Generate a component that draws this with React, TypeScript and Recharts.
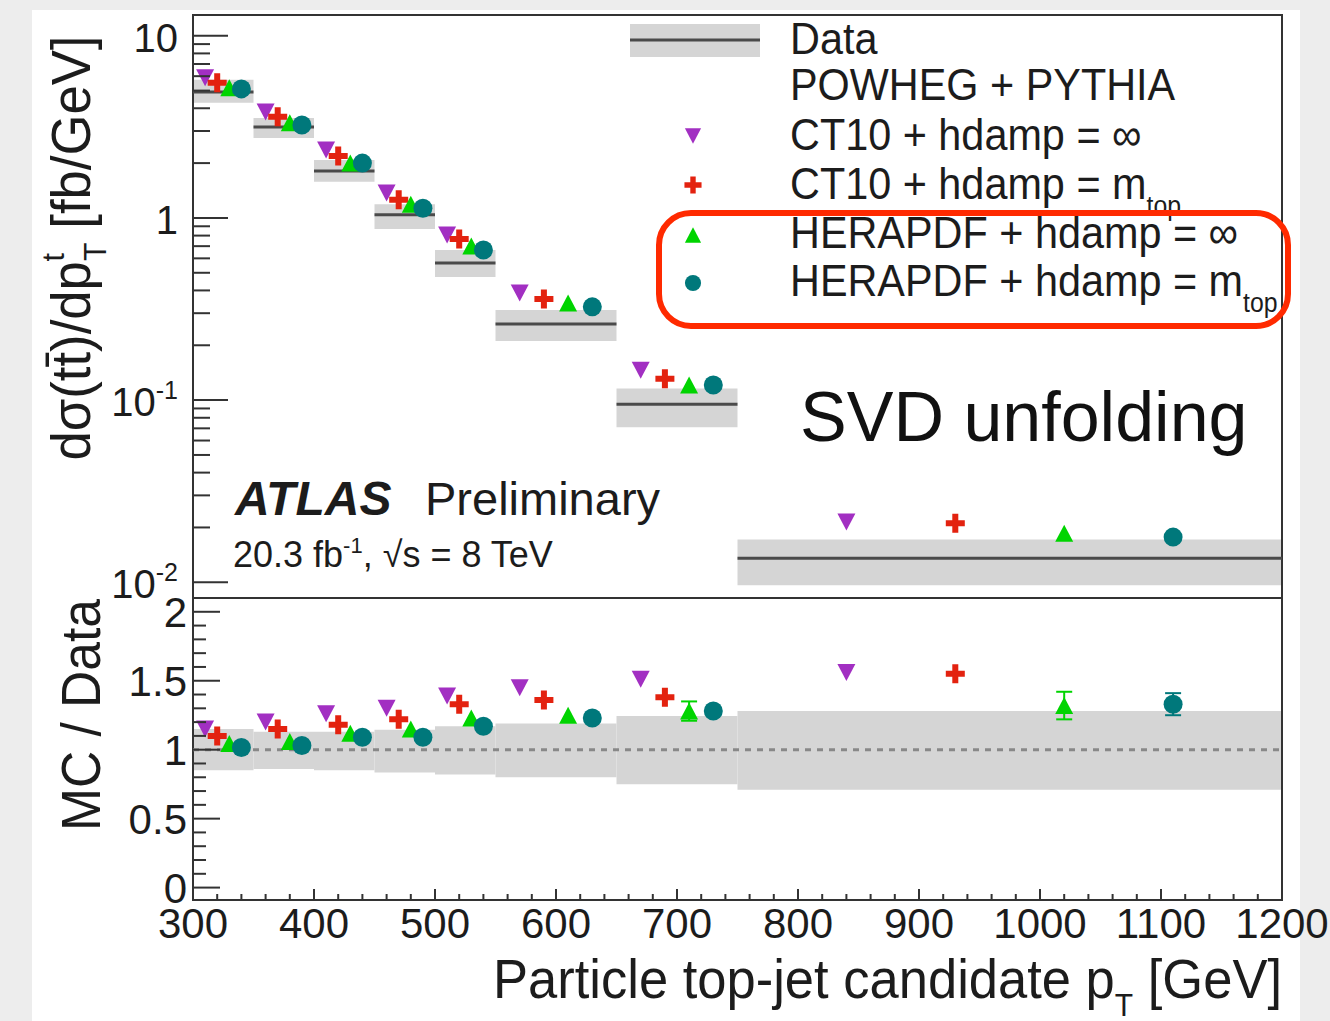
import React from "react";
import {
  ComposedChart,
  Scatter,
  XAxis,
  YAxis,
  ReferenceArea,
  ReferenceLine,
  ErrorBar,
} from "recharts";

// bins of particle top-jet candidate pT [GeV]
const binLow = [300, 350, 400, 450, 500, 550, 650, 750];
const binHigh = [350, 400, 450, 500, 550, 650, 750, 1200];

// unfolded data [fb/GeV] and its uncertainty band
const dataValue = [4.92, 3.16, 1.81, 1.04, 0.566, 0.262, 0.095, 0.01355];
const dataBandLow = [4.29, 2.75, 1.58, 0.87, 0.474, 0.211, 0.071, 0.00964];
const dataBandHigh = [5.74, 3.54, 2.08, 1.19, 0.667, 0.312, 0.116, 0.0172];

// same band in the MC / Data panel
const ratioBandLow = [0.85, 0.86, 0.85, 0.835, 0.82, 0.8, 0.75, 0.71];
const ratioBandHigh = [1.15, 1.13, 1.13, 1.145, 1.17, 1.19, 1.245, 1.28];

// POWHEG + PYTHIA predictions (x = where the marker sits inside the bin)
const ct10InfX = [310, 360, 410, 460, 510, 570, 670, 840];
const ct10InfTop = [5.88, 3.82, 2.36, 1.37, 0.806, 0.387, 0.146, 0.0214];
const ct10InfRatio = [1.15, 1.2, 1.26, 1.3, 1.39, 1.45, 1.51, 1.56];
const ct10InfErr = [0, 0, 0, 0, 0, 0, 0, 0];

const ct10MtopX = [320, 370, 420, 470, 520, 590, 690, 930];
const ct10MtopTop = [5.52, 3.59, 2.19, 1.26, 0.767, 0.359, 0.131, 0.0211];
const ct10MtopRatio = [1.1, 1.15, 1.18, 1.22, 1.33, 1.36, 1.38, 1.55];
const ct10MtopErr = [0, 0, 0, 0, 0, 0, 0, 0];

const heraInfX = [330, 380, 430, 480, 530, 610, 710, 1020];
const heraInfTop = [5.18, 3.33, 2.0, 1.19, 0.702, 0.341, 0.121, 0.0186];
const heraInfRatio = [1.045, 1.06, 1.12, 1.15, 1.23, 1.25, 1.28, 1.32];
const heraInfErr = [0, 0, 0, 0, 0, 0, 0.07, 0.1];

const heraMtopX = [340, 390, 440, 490, 540, 630, 730, 1110];
const heraMtopTop = [5.11, 3.24, 2.0, 1.13, 0.667, 0.325, 0.121, 0.0177];
const heraMtopRatio = [1.016, 1.03, 1.09, 1.09, 1.17, 1.23, 1.28, 1.33];
const heraMtopErr = [0, 0, 0, 0, 0, 0, 0, 0.08];

// axes
const xMajorTicks = [300, 400, 500, 600, 700, 800, 900, 1000, 1100, 1200];
const logMajorTicks = [0.01, 0.1, 1, 10];
const ratioMajorTicks = [0, 0.5, 1, 1.5, 2];

const X_DOMAIN: [number, number] = [300, 1200];
const TOP_DOMAIN: [number, number] = [0.0082, 13];
const RATIO_DOMAIN: [number, number] = [-0.09, 2.1];

const FONT = '"Liberation Sans", Arial, Helvetica, sans-serif';
const INK = "#1c1c1c";
const FRAME = "#333";
const BAND = "#d5d5d5";
const PURPLE = "#a22fc2";
const RED = "#e3220f";
const GREEN = "#00d400";
const TEAL = "#00787b";

const xTicks: number[] = [];
for (let v = 300; v <= 1200; v += 20) xTicks.push(v);
const logTicks: number[] = [];
logMajorTicks.slice(0, 3).forEach((m) => {
  for (let k = 1; k <= 9; k++) logTicks.push(m * k);
});
logTicks.push(10);
const ratioTicks: number[] = [];
for (let i = 0; i <= 20; i++) ratioTicks.push(i / 10);

// ---- marker shapes ----
const triDown = (color: string, s = 1) => (p: any) => {
  const { cx, cy } = p;
  const w = 9 * s;
  const h = 8.5 * s;
  return <polygon points={`${cx - w},${cy - h} ${cx + w},${cy - h} ${cx},${cy + h}`} fill={color} />;
};
const triUp = (color: string, s = 1) => (p: any) => {
  const { cx, cy } = p;
  const w = 9 * s;
  const h = 8.5 * s;
  return <polygon points={`${cx - w},${cy + h} ${cx + w},${cy + h} ${cx},${cy - h}`} fill={color} />;
};
const plus = (color: string, s = 1) => (p: any) => {
  const { cx, cy } = p;
  const a = 9.5 * s;
  const t = 3 * s;
  const d =
    `M${cx - t},${cy - a}h${2 * t}v${a - t}h${a - t}v${2 * t}h${-(a - t)}v${a - t}` +
    `h${-2 * t}v${-(a - t)}h${-(a - t)}v${-2 * t}h${a - t}z`;
  return <path d={d} fill={color} />;
};
const dot = (color: string, s = 1) => (p: any) => (
  <circle cx={p.cx} cy={p.cy} r={9.5 * s} fill={color} />
);

const models = [
  { key: "ct10Inf", color: PURPLE, shape: triDown, x: ct10InfX, top: ct10InfTop, ratio: ct10InfRatio, err: ct10InfErr },
  { key: "ct10Mtop", color: RED, shape: plus, x: ct10MtopX, top: ct10MtopTop, ratio: ct10MtopRatio, err: ct10MtopErr },
  { key: "heraInf", color: GREEN, shape: triUp, x: heraInfX, top: heraInfTop, ratio: heraInfRatio, err: heraInfErr },
  { key: "heraMtop", color: TEAL, shape: dot, x: heraMtopX, top: heraMtopTop, ratio: heraMtopRatio, err: heraMtopErr },
];

// ---- ticks (ROOT style: drawn inside the frame) ----
const renderLogTick = (p: any) => {
  const { x, y, payload } = p;
  const e = Math.log10(payload.value);
  const major = Math.abs(e - Math.round(e)) < 1e-6;
  const ex = Math.round(e);
  return (
    <g>
      <line x1={x} x2={x + (major ? 35 : 17)} y1={y} y2={y} stroke={FRAME} strokeWidth={2} />
      {major && (
        <text x={x - 15} y={y + 16} textAnchor="end" fontSize={40} fontFamily={FONT} fill={INK}>
          {ex === 0 ? "1" : "10"}
          {ex < 0 && (
            <tspan dy={-17} fontSize={25}>
              {"-" + Math.abs(ex)}
            </tspan>
          )}
        </text>
      )}
    </g>
  );
};

const renderRatioTick = (p: any) => {
  const { x, y, payload } = p;
  const v = payload.value as number;
  const major = ratioMajorTicks.some((m) => Math.abs(m - v) < 1e-6);
  return (
    <g>
      <line x1={x} x2={x + (major ? 27 : 13)} y1={y} y2={y} stroke={FRAME} strokeWidth={2} />
      {major && (
        <text x={x - 6} y={y + 15} textAnchor="end" fontSize={42} fontFamily={FONT} fill={INK}>
          {String(Math.round(v * 10) / 10)}
        </text>
      )}
    </g>
  );
};

const makeXTick = (majorLen: number, minorLen: number, labels: boolean) => (p: any) => {
  const { x, y, payload } = p;
  const v = payload.value as number;
  const major = xMajorTicks.includes(v);
  return (
    <g>
      <line x1={x} x2={x} y1={y} y2={y - (major ? majorLen : minorLen)} stroke={FRAME} strokeWidth={2} />
      {labels && major && (
        <text x={x} y={y + 38} textAnchor="middle" fontSize={42} fontFamily={FONT} fill={INK}>
          {v}
        </text>
      )}
    </g>
  );
};

const TopPanel = () => (
  <ComposedChart width={1330} height={620} margin={{ top: 15, right: 48, bottom: 22, left: 0 }}>
    <XAxis
      dataKey="x"
      type="number"
      domain={X_DOMAIN}
      allowDataOverflow
      ticks={xTicks}
      interval={0}
      height={0}
      axisLine={false}
      tickLine={false}
      tickSize={0}
      tickMargin={0}
      tick={makeXTick(15, 8, false)}
    />
    <YAxis
      dataKey="y"
      type="number"
      scale="log"
      domain={TOP_DOMAIN}
      allowDataOverflow
      ticks={logTicks}
      interval={0}
      width={193}
      axisLine={false}
      tickLine={false}
      tickSize={0}
      tickMargin={0}
      tick={renderLogTick}
    />
    {binLow.map((lo, i) => (
      <ReferenceArea
        key={"band" + i}
        x1={lo}
        x2={binHigh[i]}
        y1={dataBandLow[i]}
        y2={dataBandHigh[i]}
        fill={BAND}
        fillOpacity={1}
        stroke="none"
        ifOverflow="visible"
      />
    ))}
    {binLow.map((lo, i) => (
      <ReferenceLine
        key={"data" + i}
        segment={[
          { x: lo, y: dataValue[i] },
          { x: binHigh[i], y: dataValue[i] },
        ]}
        stroke="#4a4a4a"
        strokeWidth={3}
        ifOverflow="visible"
      />
    ))}
    {models.map((m) => (
      <Scatter
        key={m.key}
        name={m.key}
        data={m.x.map((x, i) => ({ x, y: m.top[i] }))}
        shape={m.shape(m.color)}
        isAnimationActive={false}
      />
    ))}
    <ReferenceArea
      x1={X_DOMAIN[0]}
      x2={X_DOMAIN[1]}
      y1={TOP_DOMAIN[0]}
      y2={TOP_DOMAIN[1]}
      fill="none"
      stroke={FRAME}
      strokeWidth={2}
      ifOverflow="visible"
    />
  </ComposedChart>
);

const RatioPanel = () => (
  <ComposedChart width={1330} height={431} margin={{ top: 8, right: 48, bottom: 0, left: 0 }}>
    <XAxis
      dataKey="x"
      type="number"
      domain={X_DOMAIN}
      allowDataOverflow
      ticks={xTicks}
      interval={0}
      height={121}
      axisLine={false}
      tickLine={false}
      tickSize={0}
      tickMargin={0}
      tick={makeXTick(11, 6, true)}
    />
    <YAxis
      dataKey="y"
      type="number"
      domain={RATIO_DOMAIN}
      allowDataOverflow
      ticks={ratioTicks}
      interval={0}
      width={193}
      axisLine={false}
      tickLine={false}
      tickSize={0}
      tickMargin={0}
      tick={renderRatioTick}
    />
    {binLow.map((lo, i) => (
      <ReferenceArea
        key={"rband" + i}
        x1={lo}
        x2={binHigh[i]}
        y1={ratioBandLow[i]}
        y2={ratioBandHigh[i]}
        fill={BAND}
        fillOpacity={1}
        stroke="none"
        ifOverflow="visible"
      />
    ))}
    <ReferenceLine y={1} stroke="#888" strokeWidth={3} strokeDasharray="6 6" />
    {models.map((m) => (
      <Scatter
        key={m.key}
        name={m.key}
        data={m.x.map((x, i) => ({ x, y: m.ratio[i], err: m.err[i] }))}
        shape={m.shape(m.color)}
        isAnimationActive={false}
      >
        <ErrorBar dataKey="err" direction="y" width={8} strokeWidth={2} stroke={m.color} />
      </Scatter>
    ))}
    <ReferenceArea
      x1={X_DOMAIN[0]}
      x2={X_DOMAIN[1]}
      y1={RATIO_DOMAIN[0]}
      y2={RATIO_DOMAIN[1]}
      fill="none"
      stroke={FRAME}
      strokeWidth={2}
      ifOverflow="visible"
    />
  </ComposedChart>
);

const legendRows = [
  { label: "CT10 + hdamp = ∞", sub: "", y: 150, my: 136, shape: triDown(PURPLE, 0.9) },
  { label: "CT10 + hdamp = m", sub: "top", y: 199, my: 185, shape: plus(RED, 0.9) },
  { label: "HERAPDF + hdamp = ∞", sub: "", y: 248, my: 235, shape: triUp(GREEN, 0.9) },
  { label: "HERAPDF + hdamp = m", sub: "top", y: 296, my: 283, shape: dot(TEAL, 0.85) },
];

const Overlay = () => (
  <svg
    width={1330}
    height={1021}
    style={{ position: "absolute", left: 0, top: 0, pointerEvents: "none" }}
    fontFamily={FONT}
    fill={INK}
  >
    {/* legend */}
    <rect x={630} y={24} width={130} height={33} fill={BAND} />
    <line x1={630} x2={760} y1={40} y2={40} stroke="#4a4a4a" strokeWidth={3} />
    <g transform="translate(790,0) scale(0.92,1)">
      <text x={0} y={54} fontSize={45}>Data</text>
      <text x={0} y={100} fontSize={45}>POWHEG + PYTHIA</text>
      {legendRows.map((r) => (
        <text key={r.label} x={0} y={r.y} fontSize={45}>
          {r.label}
          {r.sub && (
            <tspan dy={16} fontSize={27}>
              {r.sub}
            </tspan>
          )}
        </text>
      ))}
    </g>
    {legendRows.map((r) => (
      <g key={"m" + r.label}>{r.shape({ cx: 693, cy: r.my })}</g>
    ))}

    {/* highlight box */}
    <rect x={659} y={213} width={629} height={113} rx={32} fill="none" stroke="#ff2a00" strokeWidth={6} />

    <text x={800} y={441} fontSize={70} fill="#111">
      SVD unfolding
    </text>

    <text x={235} y={515} fontSize={48} fontWeight="bold" fontStyle="italic">
      ATLAS
    </text>
    <text x={425} y={515} fontSize={47}>
      Preliminary
    </text>
    <text x={233} y={567} fontSize={36}>
      20.3 fb
      <tspan dy={-14} fontSize={22}>
        -1
      </tspan>
      <tspan dy={14}>, √s = 8 TeV</tspan>
    </text>

    {/* axis titles */}
    <text
      transform="translate(90,248) rotate(-90)"
      textAnchor="middle"
      fontSize={56}
      textLength={425}
      lengthAdjust="spacingAndGlyphs"
    >
      dσ(tt̄)/dp
      <tspan dy={16} fontSize={32}>
        T
      </tspan>
      <tspan dx={-20} dy={-42} fontSize={32}>
        t
      </tspan>
      <tspan dx={26} dy={26}>
        [fb/GeV]
      </tspan>
    </text>
    <text
      transform="translate(100,715) rotate(-90)"
      textAnchor="middle"
      fontSize={56}
      textLength={232}
      lengthAdjust="spacingAndGlyphs"
    >
      MC / Data
    </text>
    <text x={1282} y={998} textAnchor="end" fontSize={56} textLength={789} lengthAdjust="spacingAndGlyphs">
      Particle top-jet candidate p
      <tspan dy={18} fontSize={32}>
        T
      </tspan>
      <tspan dy={-18}> [GeV]</tspan>
    </text>
  </svg>
);

export default function App() {
  return (
    <div
      style={{
        position: "absolute",
        left: 0,
        top: 0,
        width: 1330,
        height: 1021,
        background: "#ededed",
        overflow: "hidden",
        fontFamily: FONT,
      }}
    >
      <div style={{ position: "absolute", left: 32, top: 10, width: 1268, height: 1011, background: "#fff" }} />
      <div style={{ position: "absolute", left: 0, top: 0 }}>
        <TopPanel />
      </div>
      <div style={{ position: "absolute", left: 0, top: 590 }}>
        <RatioPanel />
      </div>
      <Overlay />
    </div>
  );
}
